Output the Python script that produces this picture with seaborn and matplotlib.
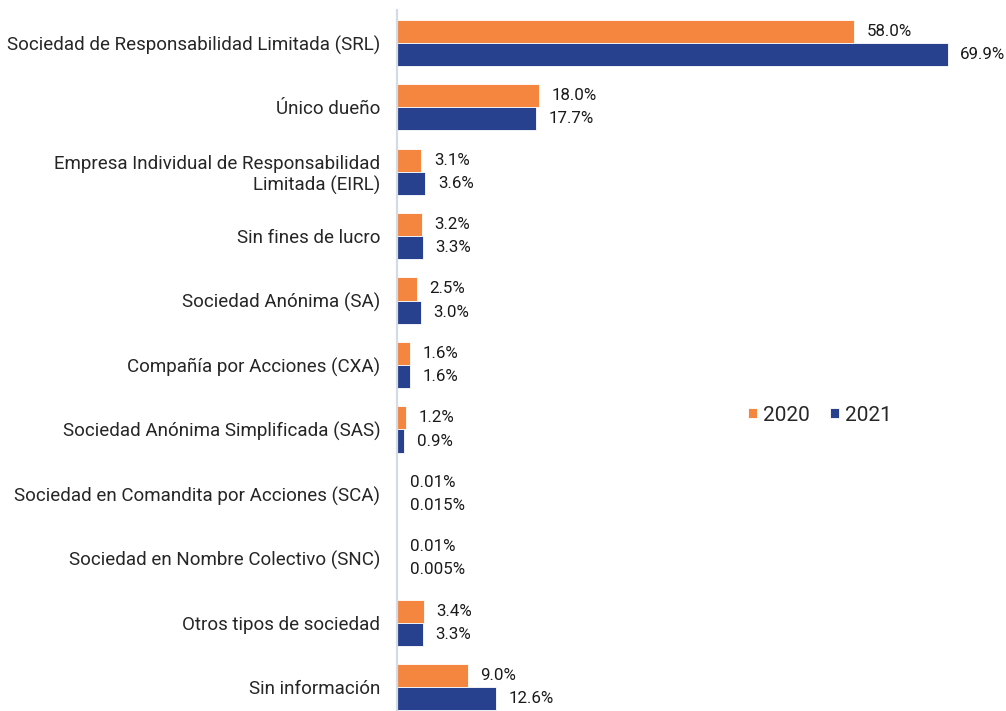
import pandas as pd
import matplotlib.pyplot as plt
import seaborn as sns

# Datos
categorias = [
    'Sociedad de Responsabilidad Limitada (SRL)',
    'Único dueño',
    'Empresa Individual de Responsabilidad\nLimitada (EIRL)',
    'Sin fines de lucro',
    'Sociedad Anónima (SA)',
    'Compañía por Acciones (CXA)',
    'Sociedad Anónima Simplificada (SAS)',
    'Sociedad en Comandita por Acciones (SCA)',
    'Sociedad en Nombre Colectivo (SNC)',
    'Otros tipos de sociedad',
    'Sin información',
]
valores_2020 = [58.0, 18.0, 3.1, 3.2, 2.5, 1.6, 1.2, 0.01, 0.01, 3.4, 9.0]
valores_2021 = [69.9, 17.7, 3.6, 3.3, 3.0, 1.6, 0.9, 0.015, 0.005, 3.3, 12.6]
etiquetas_2020 = ['58.0%', '18.0%', '3.1%', '3.2%', '2.5%', '1.6%', '1.2%', '0.01%', '0.01%', '3.4%', '9.0%']
etiquetas_2021 = ['69.9%', '17.7%', '3.6%', '3.3%', '3.0%', '1.6%', '0.9%', '0.015%', '0.005%', '3.3%', '12.6%']
anios = ['2020', '2021']
colores = ['#F4863F', '#27418F']

df = pd.DataFrame({
    'Tipo': categorias * 2,
    'Anio': [anios[0]] * len(categorias) + [anios[1]] * len(categorias),
    'Valor': valores_2020 + valores_2021,
})

sns.set_style('white')
plt.rcParams['font.family'] = ['Roboto', 'DejaVu Sans']

fig = plt.figure(figsize=(10.06, 7.11), dpi=100)
ax = fig.add_axes([397 / 1006, 0, 606 / 1006, 701 / 711])

sns.barplot(data=df, y='Tipo', x='Valor', hue='Anio', orient='h',
            palette=colores, saturation=1, width=0.72, edgecolor='white',
            linewidth=0.6, ax=ax)

for cont, etiquetas in zip(ax.containers, [etiquetas_2020, etiquetas_2021]):
    ax.bar_label(cont, labels=etiquetas, padding=9, fontsize=12.2, color='#1a1a1a')

ax.set_xlim(0, 606 / 7.88)
ax.set_ylim(10.37, -0.51)
ax.set_xlabel('')
ax.set_ylabel('')
ax.set_xticks([])
ax.tick_params(axis='y', length=0, pad=12, labelsize=13.5, labelcolor='#262626')
for lbl in ax.get_yticklabels():
    lbl.set_horizontalalignment('right')
    lbl.set_multialignment('right')

for s in ['top', 'right', 'bottom']:
    ax.spines[s].set_visible(False)
ax.spines['left'].set_color('#D5DBE5')
ax.spines['left'].set_linewidth(1.6)

handles, labels = ax.get_legend_handles_labels()
ax.legend(handles, labels, loc='center', bbox_to_anchor=(0.698, 0.422),
          ncol=2, frameon=False, fontsize=15, handlelength=0.4, handleheight=0.4,
          handletextpad=0.3, columnspacing=1.0, labelcolor='#262626')

plt.savefig('out.png', dpi=100)
